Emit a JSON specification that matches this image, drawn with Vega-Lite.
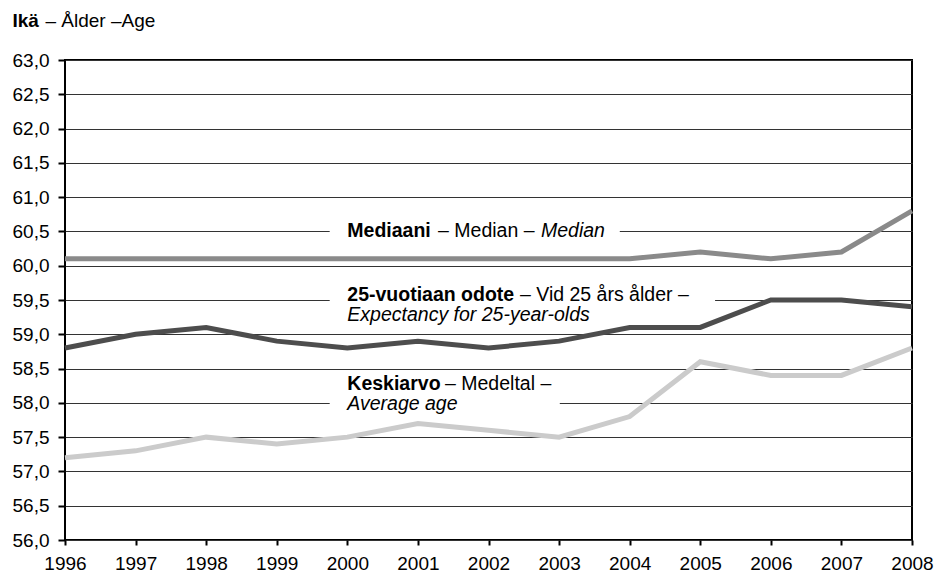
{
  "$schema": "https://vega.github.io/schema/vega-lite/v6.json",
  "width": 847,
  "height": 480,
  "autosize": "none",
  "padding": {"left": 65, "top": 60, "right": 26, "bottom": 34},
  "background": "white",
  "config": {
    "view": {"stroke": "black", "strokeWidth": 2},
    "font": "Liberation Sans"
  },
  "datasets": {
    "series": [
      {"x": 1996, "y": 60.1, "s": "median"}, {"x": 1997, "y": 60.1, "s": "median"}, {"x": 1998, "y": 60.1, "s": "median"},
      {"x": 1999, "y": 60.1, "s": "median"}, {"x": 2000, "y": 60.1, "s": "median"}, {"x": 2001, "y": 60.1, "s": "median"},
      {"x": 2002, "y": 60.1, "s": "median"}, {"x": 2003, "y": 60.1, "s": "median"}, {"x": 2004, "y": 60.1, "s": "median"},
      {"x": 2005, "y": 60.2, "s": "median"}, {"x": 2006, "y": 60.1, "s": "median"}, {"x": 2007, "y": 60.2, "s": "median"},
      {"x": 2008, "y": 60.8, "s": "median"},
      {"x": 1996, "y": 58.8, "s": "exp25"}, {"x": 1997, "y": 59.0, "s": "exp25"}, {"x": 1998, "y": 59.1, "s": "exp25"},
      {"x": 1999, "y": 58.9, "s": "exp25"}, {"x": 2000, "y": 58.8, "s": "exp25"}, {"x": 2001, "y": 58.9, "s": "exp25"},
      {"x": 2002, "y": 58.8, "s": "exp25"}, {"x": 2003, "y": 58.9, "s": "exp25"}, {"x": 2004, "y": 59.1, "s": "exp25"},
      {"x": 2005, "y": 59.1, "s": "exp25"}, {"x": 2006, "y": 59.5, "s": "exp25"}, {"x": 2007, "y": 59.5, "s": "exp25"},
      {"x": 2008, "y": 59.4, "s": "exp25"},
      {"x": 1996, "y": 57.2, "s": "avg"}, {"x": 1997, "y": 57.3, "s": "avg"}, {"x": 1998, "y": 57.5, "s": "avg"},
      {"x": 1999, "y": 57.4, "s": "avg"}, {"x": 2000, "y": 57.5, "s": "avg"}, {"x": 2001, "y": 57.7, "s": "avg"},
      {"x": 2002, "y": 57.6, "s": "avg"}, {"x": 2003, "y": 57.5, "s": "avg"}, {"x": 2004, "y": 57.8, "s": "avg"},
      {"x": 2005, "y": 58.6, "s": "avg"}, {"x": 2006, "y": 58.4, "s": "avg"}, {"x": 2007, "y": 58.4, "s": "avg"},
      {"x": 2008, "y": 58.8, "s": "avg"}
    ],
    "boxes": [
      {"x": 1999.75, "x2": 2003.86, "y": 60.44, "y2": 60.56},
      {"x": 1999.75, "x2": 2005.21, "y": 59.44, "y2": 59.56},
      {"x": 1999.75, "x2": 2003.01, "y": 57.94, "y2": 58.06}
    ],
    "bold": [
      {"x": 2000.0, "y": 60.419, "t": "Mediaani"},
      {"x": 2000.0, "y": 59.49, "t": "25-vuotiaan odote"},
      {"x": 2000.0, "y": 58.188, "t": "Keskiarvo"}
    ],
    "normal": [
      {"x": 2001.285, "y": 60.419, "t": "– Median –"},
      {"x": 2002.446, "y": 59.49, "t": "– Vid 25 års ålder –"},
      {"x": 2001.384, "y": 58.188, "t": "– Medeltal –"}
    ],
    "italic": [
      {"x": 2002.744, "y": 60.419, "t": "Median"},
      {"x": 2000.0, "y": 59.19, "t": "Expectancy for 25-year-olds"},
      {"x": 2000.0, "y": 57.896, "t": "Average age"}
    ]
  },
  "encoding": {
    "x": {
      "field": "x",
      "type": "quantitative",
      "scale": {"domain": [1996, 2008], "nice": false, "zero": false},
      "axis": {
        "title": "Ikä",
        "titleX": -53,
        "titleY": -514,
        "titleAlign": "left",
        "titleBaseline": "alphabetic",
        "titleAngle": 0,
        "titleFont": "Liberation Sans",
        "titleFontSize": 19,
        "titleFontWeight": "bold",
        "titleColor": "black",
        "values": [1996, 1997, 1998, 1999, 2000, 2001, 2002, 2003, 2004, 2005, 2006, 2007, 2008],
        "format": "d",
        "grid": false,
        "domain": false,
        "ticks": true,
        "tickColor": "black",
        "tickWidth": 2,
        "tickSize": 5,
        "labelFont": "Liberation Sans",
        "labelFontSize": 19,
        "labelColor": "black",
        "labelBaseline": "alphabetic",
        "labelPadding": 24,
        "labelFlush": false,
        "labelOverlap": false
      }
    },
    "y": {
      "field": "y",
      "type": "quantitative",
      "scale": {"domain": [56, 63], "nice": false, "zero": false},
      "axis": {
        "title": "– Ålder –Age",
        "titleAngle": 0,
        "titleX": -20,
        "titleY": -34,
        "titleAlign": "left",
        "titleBaseline": "alphabetic",
        "titleFont": "Liberation Sans",
        "titleFontSize": 19,
        "titleFontWeight": "normal",
        "titleColor": "black",
        "values": [56, 56.5, 57, 57.5, 58, 58.5, 59, 59.5, 60, 60.5, 61, 61.5, 62, 62.5, 63],
        "labelExpr": "replace(format(datum.value, '.1f'), '.', ',')",
        "grid": true,
        "gridColor": "#333333",
        "gridWidth": 1,
        "gridOpacity": 1,
        "domain": false,
        "tickColor": "black",
        "tickWidth": 2,
        "tickSize": 7,
        "labelPadding": 9,
        "labelFont": "Liberation Sans",
        "labelFontSize": 19,
        "labelColor": "black"
      }
    }
  },
  "layer": [
    {
      "data": {"name": "boxes"},
      "mark": {"type": "rect", "fill": "white", "stroke": null},
      "encoding": {
        "x2": {"field": "x2"},
        "y2": {"field": "y2"}
      }
    },
    {
      "data": {"name": "series"},
      "mark": {"type": "line", "strokeWidth": 5, "strokeJoin": "miter", "strokeCap": "butt"},
      "encoding": {
        "color": {
          "field": "s",
          "type": "nominal",
          "scale": {"domain": ["median", "exp25", "avg"], "range": ["#8a8a8a", "#4d4d4d", "#cbcbcb"]},
          "legend": null
        }
      }
    },
    {
      "data": {"name": "bold"},
      "mark": {"type": "text", "align": "left", "baseline": "alphabetic", "font": "Liberation Sans", "fontSize": 19.5, "fontWeight": "bold", "color": "black"},
      "encoding": {"text": {"field": "t"}}
    },
    {
      "data": {"name": "normal"},
      "mark": {"type": "text", "align": "left", "baseline": "alphabetic", "font": "Liberation Sans", "fontSize": 19.5, "fontWeight": "normal", "color": "black"},
      "encoding": {"text": {"field": "t"}}
    },
    {
      "data": {"name": "italic"},
      "mark": {"type": "text", "align": "left", "baseline": "alphabetic", "font": "Liberation Sans", "fontSize": 19.5, "fontStyle": "italic", "color": "black"},
      "encoding": {"text": {"field": "t"}}
    }
  ]
}
